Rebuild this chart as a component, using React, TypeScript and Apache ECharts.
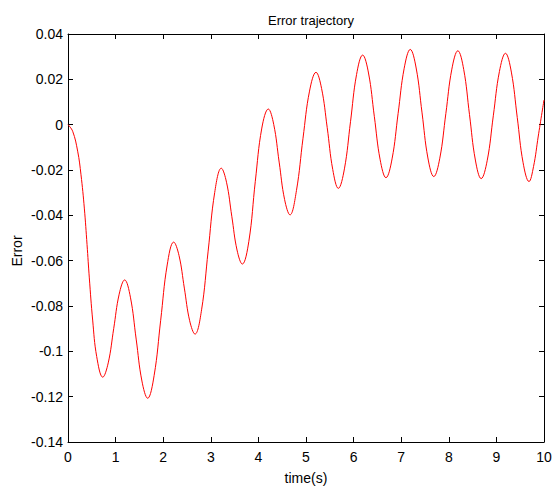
import React, { useEffect, useRef } from "react";
import * as echarts from "echarts";

const timeValues: number[] = [
  0, 0.098, 0.203, 0.273, 0.343, 0.4, 0.448, 0.518, 0.603, 0.73,
  0.845, 0.96, 1.075, 1.19,
  1.311, 1.432, 1.553, 1.674,
  1.81, 1.947, 2.084, 2.22,
  2.332, 2.444, 2.556, 2.668,
  2.806, 2.944, 3.082, 3.22,
  3.33, 3.441, 3.551, 3.662,
  3.799, 3.935, 4.072, 4.208,
  4.322, 4.436, 4.55, 4.664,
  4.8, 4.937, 5.074, 5.21,
  5.327, 5.445, 5.562, 5.679,
  5.807, 5.935, 6.062, 6.19,
  6.313, 6.435, 6.558, 6.68,
  6.808, 6.935, 7.063, 7.19,
  7.314, 7.438, 7.561, 7.685,
  7.811, 7.938, 8.064, 8.19,
  8.313, 8.435, 8.558, 8.68,
  8.808, 8.935, 9.063, 9.19,
  9.314, 9.438, 9.561, 9.685,
  9.78, 9.88, 10,
];

const errorValues: number[] = [
  0, -0.0029, -0.0117, -0.0221, -0.0368, -0.0529, -0.0676, -0.0862, -0.1023, -0.1114,
  -0.1051, -0.09, -0.0748, -0.0685,
  -0.0761, -0.0946, -0.1131, -0.1207,
  -0.1106, -0.0863, -0.0619, -0.0518,
  -0.0577, -0.0721, -0.0865, -0.0924,
  -0.0817, -0.0558, -0.0299, -0.0192,
  -0.0254, -0.0404, -0.0553, -0.0615,
  -0.0515, -0.025, -0.0015, 0.0069,
  0.0001, -0.0165, -0.033, -0.0398,
  -0.029, -0.006, 0.0148, 0.0231,
  0.016, -0.0012, -0.0198, -0.0281,
  -0.0195, 0.0013, 0.0221, 0.0307,
  0.0228, 0.0037, -0.0155, -0.0234,
  -0.0151, 0.0049, 0.0249, 0.0332,
  0.025, 0.0052, -0.0147, -0.0229,
  -0.0148, 0.0049, 0.0245, 0.0326,
  0.0244, 0.0044, -0.0156, -0.0238,
  -0.0157, 0.0039, 0.0234, 0.0315,
  0.0232, 0.0032, -0.0168, -0.0251,
  -0.0185, -0.005, 0.0109,
];

const xTicks = { min: 0, max: 10, interval: 1 };
const yTicks = { min: -0.14, max: 0.04, interval: 0.02 };

const FONT = "Liberation Sans, Arial, sans-serif";

export default function App() {
  const ref = useRef<HTMLDivElement>(null);

  useEffect(() => {
    if (!ref.current) return;
    const chart = echarts.init(ref.current, undefined, { renderer: "svg" });
    const data = timeValues.map((t, i) => [t, errorValues[i]]);
    const lineStyle = { color: "#000", width: 1 };
    const tick = { show: true, inside: true, length: 5, lineStyle };
    const yFmt = (v: number) => {
      const r = Math.round(v * 100) / 100;
      return r === 0 ? "0" : String(r);
    };
    chart.setOption({
      animation: false,
      backgroundColor: "#fff",
      title: {
        text: "Error trajectory",
        left: 306,
        top: 9,
        textAlign: "center",
        textStyle: { fontFamily: FONT, fontSize: 13, fontWeight: "normal", color: "#000" },
      },
      graphic: [
        {
          type: "text",
          x: 17,
          y: 251,
          rotation: Math.PI / 2,
          style: {
            text: "Error",
            fontFamily: FONT,
            fontSize: 14,
            fill: "#000",
            align: "center",
            verticalAlign: "middle",
          },
        },
      ],
      grid: { left: 68, right: 8, top: 34, bottom: 44, containLabel: false, outerBoundsMode: "none" },
      xAxis: [
        {
          type: "value",
          min: xTicks.min,
          max: xTicks.max,
          interval: xTicks.interval,
          position: "bottom",
          name: "time(s)",
          nameLocation: "middle",
          nameGap: 29,
          nameTextStyle: { fontFamily: FONT, fontSize: 14, color: "#000" },
          axisLine: { show: true, onZero: false, lineStyle },
          axisTick: tick,
          axisLabel: { fontFamily: FONT, fontSize: 14, color: "#000", margin: 8 },
          splitLine: { show: false },
        },
        {
          type: "value",
          min: xTicks.min,
          max: xTicks.max,
          interval: xTicks.interval,
          position: "top",
          axisLine: { show: true, onZero: false, lineStyle },
          axisTick: tick,
          axisLabel: { show: false },
          splitLine: { show: false },
        },
      ],
      yAxis: [
        {
          type: "value",
          min: yTicks.min,
          max: yTicks.max,
          interval: yTicks.interval,
          position: "left",
          axisLine: { show: true, onZero: false, lineStyle },
          axisTick: tick,
          axisLabel: { fontFamily: FONT, fontSize: 14, color: "#000", margin: 5, formatter: yFmt },
          splitLine: { show: false },
        },
        {
          type: "value",
          min: yTicks.min,
          max: yTicks.max,
          interval: yTicks.interval,
          position: "right",
          axisLine: { show: true, onZero: false, lineStyle },
          axisTick: tick,
          axisLabel: { show: false },
          splitLine: { show: false },
        },
      ],
      series: [
        {
          type: "line",
          data,
          xAxisIndex: 0,
          yAxisIndex: 0,
          smooth: 0.4,
          symbol: "none",
          lineStyle: { color: "#ff0000", width: 1 },
        },
      ],
    });
    return () => chart.dispose();
  }, []);

  return <div ref={ref} style={{ width: 552, height: 486, position: "absolute", left: 0, top: 0 }} />;
}
